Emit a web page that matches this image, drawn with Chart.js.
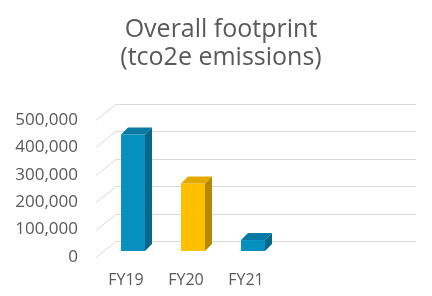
<!DOCTYPE html>
<html>
<head>
<meta charset="utf-8">
<script src="https://cdn.jsdelivr.net/npm/chart.js@4"></script>
<style>
  html, body { margin: 0; padding: 0; background: #fff; }
  #wrap { width: 432px; height: 296px; }
</style>
</head>
<body>
<div id="wrap"><canvas id="footprintChart" width="432" height="296"></canvas></div>
<script>
const categories = ['FY19', 'FY20', 'FY21', '', ''];
const emissions = [425000, 246000, 40000, null, null];
const yTicks = [0, 100000, 200000, 300000, 400000, 500000];

const frontColors = ['#0690c0', '#ffc000', '#0690c0'];
const sideColors = ['#05678a', '#b58800', '#05678a'];
const topColors = ['#0879a3', '#e3ab00', '#0879a3'];

// fake 3d: back wall offset and bar depth
const WALL_DX = 20, WALL_DY = -16;
const BAR_SHIFT_X = 7, BAR_SHIFT_Y = -6;
const BAR_DEPTH = 7;

const threeD = {
    id: 'threeD',
    beforeDatasetsDraw(chart) {
        const ctx = chart.ctx;
        const y = chart.scales.y;
        const area = chart.chartArea;
        ctx.save();
        ctx.strokeStyle = '#d9d9d9';
        ctx.lineWidth = 1;
        yTicks.forEach(v => {
            const py = Math.round(y.getPixelForValue(v)) + 0.5;
            ctx.beginPath();
            ctx.moveTo(area.left, py);
            ctx.lineTo(area.left + WALL_DX, py + WALL_DY);
            ctx.lineTo(area.right + WALL_DX, py + WALL_DY);
            ctx.stroke();
        });
        ctx.restore();

        ctx.save();
        ctx.translate(BAR_SHIFT_X, BAR_SHIFT_Y);
    },
    afterDatasetsDraw(chart) {
        const ctx = chart.ctx;
        const meta = chart.getDatasetMeta(0);
        meta.data.forEach((bar, i) => {
            if (emissions[i] == null) return;
            const p = bar.getProps(['x', 'y', 'base', 'width'], true);
            const l = p.x - p.width / 2;
            const r = p.x + p.width / 2;
            const d = BAR_DEPTH;

            ctx.fillStyle = topColors[i];
            ctx.beginPath();
            ctx.moveTo(l, p.y);
            ctx.lineTo(r, p.y);
            ctx.lineTo(r + d, p.y - d);
            ctx.lineTo(l + d, p.y - d);
            ctx.closePath();
            ctx.fill();

            ctx.fillStyle = sideColors[i];
            ctx.beginPath();
            ctx.moveTo(r, p.y);
            ctx.lineTo(r + d, p.y - d);
            ctx.lineTo(r + d, p.base - d);
            ctx.lineTo(r, p.base);
            ctx.closePath();
            ctx.fill();
        });
        ctx.restore();
    }
};

const ctx = document.getElementById('footprintChart').getContext('2d');
new Chart(ctx, {
    type: 'bar',
    data: {
        labels: categories,
        datasets: [{
            data: emissions,
            backgroundColor: frontColors,
            borderWidth: 0,
            barPercentage: 0.4,
            categoryPercentage: 1
        }]
    },
    options: {
        responsive: false,
        animation: false,
        layout: { padding: { left: 10, right: 0, top: 0, bottom: 0 } },
        plugins: {
            legend: { display: false },
            tooltip: { enabled: false },
            title: {
                display: true,
                text: ['Overall footprint', '(tco2e emissions)'],
                color: '#595959',
                font: { family: 'Open Sans', size: 25, weight: 'normal', lineHeight: 1.12 },
                padding: { top: 16, bottom: 48 }
            }
        },
        scales: {
            x: {
                afterFit(scale) { scale.height = 39; },
                grid: { display: false, drawTicks: false },
                border: { display: false },
                ticks: {
                    color: '#595959',
                    font: { family: 'Open Sans', size: 16 },
                    padding: 14,
                    maxRotation: 0,
                    autoSkip: false
                }
            },
            y: {
                min: 0,
                max: 500000,
                afterBuildTicks(scale) {
                    scale.ticks = yTicks.map(v => ({ value: v }));
                },
                afterFit(scale) { scale.width = 86; },
                grid: { display: false, drawTicks: false },
                border: { display: false },
                ticks: {
                    color: '#595959',
                    font: { family: 'Open Sans', size: 17 },
                    padding: 18,
                    callback: v => v.toLocaleString('en-US')
                }
            },
            // empty right-hand strip, leaves room for the back wall
            yRight: {
                position: 'right',
                afterFit(scale) { scale.width = 36; },
                grid: { display: false, drawTicks: false },
                border: { display: false },
                ticks: { display: false }
            }
        }
    },
    plugins: [threeD]
});
</script>
</body>
</html>
